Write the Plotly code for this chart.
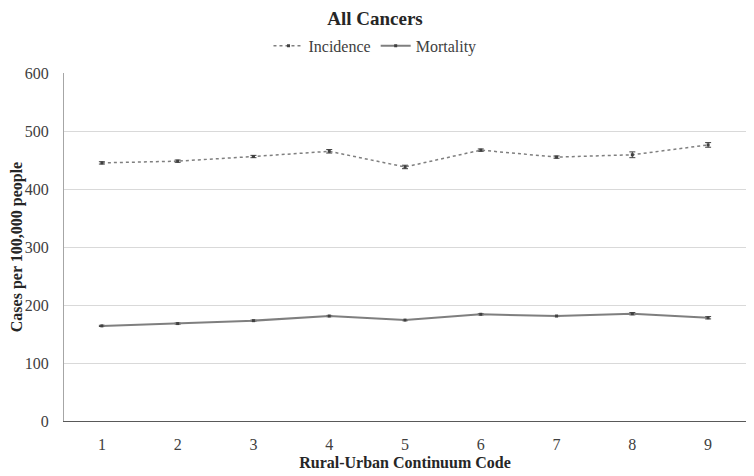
import plotly.graph_objects as go

codes = [1, 2, 3, 4, 5, 6, 7, 8, 9]
incidence = [445, 448, 456, 465, 438, 467, 455, 459, 476]
incidence_err = [2, 2, 2, 3, 3, 2, 2, 5, 4]
mortality = [164, 168, 173, 181, 174, 184, 181, 185, 178]
mortality_err = [1, 1, 1, 1, 1, 1, 1, 2, 2]
y_ticks = [0, 100, 200, 300, 400, 500, 600]

font = "Liberation Serif, Times New Roman, serif"
grey = "#7f7f7f"

fig = go.Figure()
fig.add_trace(go.Scatter(
    x=codes, y=incidence, name="Incidence", mode="lines+markers",
    line=dict(color=grey, width=1.5, dash="dot"),
    marker=dict(symbol="square", size=3, color="#404040"),
    error_y=dict(type="data", array=incidence_err, color="#404040", thickness=1, width=3),
))
fig.add_trace(go.Scatter(
    x=codes, y=mortality, name="Mortality", mode="lines+markers",
    line=dict(color=grey, width=2),
    marker=dict(symbol="square", size=3, color="#404040"),
    error_y=dict(type="data", array=mortality_err, color="#404040", thickness=1, width=3),
))

# the page body has an 8px margin, so the figure is sized to fill the window after it
fig.update_layout(
    width=746, height=468,
    margin=dict(l=56, r=8, t=65, b=55, autoexpand=False),
    paper_bgcolor="white", plot_bgcolor="white",
    font=dict(family=font, size=16, color="#262626"),
    title=dict(text="<b>All Cancers</b>", x=0.456, xanchor="center",
               xref="paper", yref="container", y=0.977, yanchor="middle",
               font=dict(family=font, size=19, color="#262626")),
    legend=dict(orientation="h", x=0.456, xanchor="center",
                y=1.078, yanchor="middle",
                font=dict(family=font, size=16, color="#404040")),
    showlegend=True,
)
fig.update_xaxes(
    range=[0.5, 9.5], tickvals=codes, ticktext=[str(c) for c in codes],
    showgrid=False, showline=True, linecolor="#595959", linewidth=1,
    ticks="", zeroline=False, automargin=False, ticklabelstandoff=9,
    title=dict(text="<b>Rural-Urban Continuum Code</b>", standoff=4,
               font=dict(family=font, size=16, color="#262626")),
    tickfont=dict(family=font, size=16, color="#404040"),
)
fig.update_yaxes(
    range=[0, 600], tickvals=y_ticks, showgrid=True, gridcolor="#d9d9d9", gridwidth=1,
    showline=True, linecolor="#a6a6a6", linewidth=1, zeroline=False, ticks="",
    automargin=False, ticklabelstandoff=11,
    title=dict(text="<b>Cases per 100,000 people</b>", standoff=3,
               font=dict(family=font, size=16, color="#262626")),
    tickfont=dict(family=font, size=16, color="#404040"),
)

fig.write_html("out.html")
